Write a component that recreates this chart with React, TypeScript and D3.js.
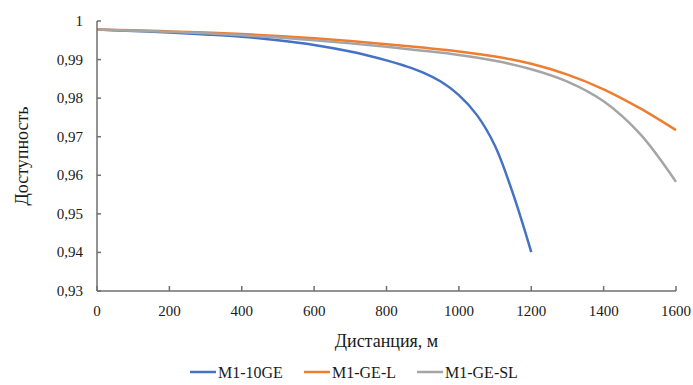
import React, { useRef, useEffect } from 'react';
import * as d3 from 'd3';

// distance, m
const distance = [0, 100, 200, 300, 400, 500, 600, 700, 800, 900, 1000, 1100, 1200, 1300, 1400, 1500, 1600];
const blueDistance = [0, 100, 200, 300, 400, 500, 600, 700, 800, 850, 900, 950, 1000, 1050, 1100, 1150, 1200];

const m1_10GE = [0.9978, 0.9974, 0.997, 0.9965, 0.9959, 0.995, 0.9938, 0.9921, 0.9898, 0.9884, 0.9867, 0.9843, 0.9808, 0.9756, 0.9676, 0.9551, 0.9401];
const m1_GE_L = [0.9978, 0.9976, 0.9973, 0.997, 0.9966, 0.9961, 0.9955, 0.9948, 0.994, 0.9931, 0.9921, 0.9908, 0.9889, 0.9861, 0.9823, 0.9774, 0.9717];
const m1_GE_SL = [0.9978, 0.9975, 0.9972, 0.9968, 0.9963, 0.9957, 0.995, 0.9942, 0.9933, 0.9923, 0.9912, 0.9897, 0.9875, 0.9843, 0.9792, 0.9708, 0.9583];

const xTicks = [0, 200, 400, 600, 800, 1000, 1200, 1400, 1600];
const yTicks = [0.93, 0.94, 0.95, 0.96, 0.97, 0.98, 0.99, 1];

const seriesNames = ['M1-10GE', 'M1-GE-L', 'M1-GE-SL'];
const colors = ['#4472C4', '#ED7D31', '#A5A5A5'];

export default function App() {
  const svgRef = useRef<SVGSVGElement>(null);

  useEffect(() => {
    const width = 693;
    const height = 385;
    const svg = d3.select(svgRef.current);
    svg.selectAll('*').remove();

    const margin = { top: 21, right: 17, bottom: 94, left: 97 };
    const w = width - margin.left - margin.right;
    const h = height - margin.top - margin.bottom;
    const font = '"Liberation Serif", "Times New Roman", serif';
    const axisColor = '#6f6f6f';
    const textColor = '#1a1a1a';

    const x = d3.scaleLinear().domain([0, 1600]).range([margin.left, margin.left + w]);
    const y = d3.scaleLinear().domain([0.93, 1]).range([margin.top + h, margin.top]);

    // series
    const series = [
      { xs: blueDistance, ys: m1_10GE },
      { xs: distance, ys: m1_GE_L },
      { xs: distance, ys: m1_GE_SL },
    ];
    const line = d3.line<[number, number]>()
      .x(d => x(d[0]))
      .y(d => y(d[1]))
      .curve(d3.curveCatmullRom.alpha(0.5));

    series.forEach((s, i) => {
      const pts = s.xs.map((d, j) => [d, s.ys[j]] as [number, number]);
      svg.append('path')
        .datum(pts)
        .attr('d', line)
        .attr('fill', 'none')
        .attr('stroke', colors[i])
        .attr('stroke-width', 2.5);
    });

    // axes
    const axes = svg.append('g').attr('stroke', axisColor).attr('stroke-width', 1.5);
    axes.append('line')
      .attr('x1', x(0)).attr('x2', x(0))
      .attr('y1', y(0.93)).attr('y2', y(1));
    axes.append('line')
      .attr('x1', x(0)).attr('x2', x(1600))
      .attr('y1', y(0.93)).attr('y2', y(0.93));

    yTicks.forEach(t => {
      axes.append('line')
        .attr('x1', x(0)).attr('x2', x(0) + 4)
        .attr('y1', y(t)).attr('y2', y(t));
      svg.append('text')
        .attr('x', x(0) - 14)
        .attr('y', y(t))
        .attr('text-anchor', 'end')
        .attr('dominant-baseline', 'central')
        .attr('font-family', font)
        .attr('font-size', '15px')
        .attr('fill', textColor)
        .text(t === 1 ? '1' : d3.format('.2f')(t).replace('.', ','));
    });

    xTicks.forEach(t => {
      axes.append('line')
        .attr('x1', x(t)).attr('x2', x(t))
        .attr('y1', y(0.93)).attr('y2', y(0.93) - 5);
      svg.append('text')
        .attr('x', x(t))
        .attr('y', y(0.93) + 25)
        .attr('text-anchor', 'middle')
        .attr('font-family', font)
        .attr('font-size', '15px')
        .attr('fill', textColor)
        .text(t);
    });

    // axis titles
    svg.append('text')
      .attr('x', x(800))
      .attr('y', 347)
      .attr('text-anchor', 'middle')
      .attr('font-family', font)
      .attr('font-size', '18px')
      .attr('fill', textColor)
      .text('Дистанция, м');

    svg.append('text')
      .attr('transform', `translate(28, ${y(0.965)}) rotate(-90)`)
      .attr('text-anchor', 'middle')
      .attr('font-family', font)
      .attr('font-size', '18px')
      .attr('fill', textColor)
      .text('Доступность');

    // legend
    const legendX = [190, 304, 417];
    seriesNames.forEach((name, i) => {
      const lg = svg.append('g').attr('transform', `translate(${legendX[i]}, 372)`);
      lg.append('line')
        .attr('x1', 0).attr('x2', 26)
        .attr('y1', 0).attr('y2', 0)
        .attr('stroke', colors[i])
        .attr('stroke-width', 2.5);
      lg.append('text')
        .attr('x', 28)
        .attr('y', 0)
        .attr('dominant-baseline', 'central')
        .attr('font-family', font)
        .attr('font-size', '16px')
        .attr('fill', textColor)
        .text(name);
    });
  }, []);

  return (
    <svg
      ref={svgRef}
      width={693}
      height={385}
      style={{ position: 'absolute', left: 0, top: 0, background: '#fff' }}
    />
  );
}
